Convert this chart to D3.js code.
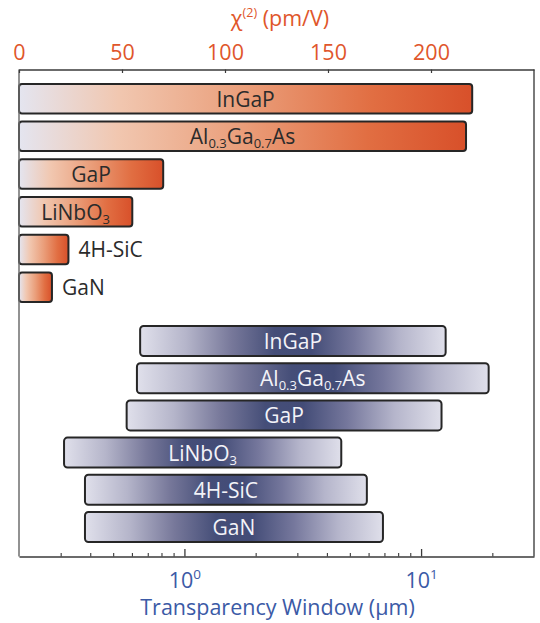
<!DOCTYPE html>
<html>
<head>
<meta charset="utf-8">
<script src="https://cdn.jsdelivr.net/npm/d3@7"></script>
<style>
  body { margin: 0; background: #fff; }
  svg { display: block; font-family: "Open Sans", "Noto Sans", sans-serif; }
</style>
</head>
<body>
<svg id="chart" width="540" height="623"></svg>
<script>
// Materials; "_{...}" marks a subscript in the drawn label.
const materials = ["InGaP", "Al_{0.3}Ga_{0.7}As", "GaP", "LiNbO_{3}", "4H-SiC", "GaN"];
// Second-order susceptibility, pm/V
const chi2Values = [220, 217, 70, 55, 24, 16];
// Transparency window, µm
const windowStart = [0.65, 0.63, 0.57, 0.31, 0.38, 0.38];
const windowEnd = [12.7, 19.3, 12.2, 4.6, 5.9, 6.9];

const chi2Ticks = [0, 50, 100, 150, 200];
const decadeTicks = [1, 10];
const decadeExponents = ["0", "1"];
const minorTicks = [0.3, 0.4, 0.5, 0.6, 0.7, 0.8, 0.9, 2, 3, 4, 5, 6, 7, 8, 9, 20];

const orange = "#e0562b";
const blue = "#3b5aa6";
const fontSize = 21;

const svg = d3.select("#chart");
const frameL = 19, frameR = 534, frameT = 69.5, frameB = 556.5;

const chiX = d3.scaleLinear().domain([0, 250]).range([frameL, frameR]);
const lamX = d3.scaleLog().domain([0.2, 30]).range([frameL, frameR]);
const yChi = d3.scaleBand().domain(materials).range([79.8, 306])
  .paddingInner(0.2175).paddingOuter(0.10875);
const yLam = d3.scaleBand().domain(materials).range([322.4, 545.6])
  .paddingInner(0.1935).paddingOuter(0.0968);

// Gradients
const defs = svg.append("defs");
const gOr = defs.append("linearGradient").attr("id", "gradOrange")
  .attr("x1", 0).attr("x2", 1).attr("y1", 0).attr("y2", 0);
[[0, "#e4e5f0"], [0.22, "#f1c7b0"], [0.5, "#ea9e7a"], [0.78, "#e16e42"], [1, "#d8502a"]]
  .forEach(([o, c]) => gOr.append("stop").attr("offset", o).attr("stop-color", c));
const gBl = defs.append("linearGradient").attr("id", "gradBlue")
  .attr("x1", 0).attr("x2", 1).attr("y1", 0).attr("y2", 0);
[[0, "#e0e0eb"], [0.15, "#b5b5ca"], [0.3, "#77789a"], [0.44, "#454e78"], [0.56, "#434c77"],
 [0.7, "#75779c"], [0.85, "#b5b5cb"], [1, "#dfdfea"]]
  .forEach(([o, c]) => gBl.append("stop").attr("offset", o).attr("stop-color", c));

// Writes a label with subscripts into a text element
function writeLabel(textSel, label, subSize) {
  const parts = label.split(/(_\{[^}]*\})/).filter(s => s.length);
  let shifted = false;
  parts.forEach(p => {
    const m = p.match(/^_\{(.*)\}$/);
    if (m) {
      textSel.append("tspan").attr("font-size", subSize).attr("dy", shifted ? 0 : 7).text(m[1]);
      shifted = true;
    } else {
      textSel.append("tspan").attr("dy", shifted ? -7 : 0).text(p);
      shifted = false;
    }
  });
}

// χ(2) bars
const chiRows = svg.append("g").selectAll("g").data(materials).join("g");
chiRows.append("rect")
  .attr("x", chiX(0))
  .attr("y", d => yChi(d))
  .attr("width", (d, i) => chiX(chi2Values[i]) - chiX(0))
  .attr("height", yChi.bandwidth())
  .attr("rx", 3)
  .attr("fill", "url(#gradOrange)")
  .attr("stroke", "#262626").attr("stroke-width", 2);
chiRows.each(function (d, i) {
  const g = d3.select(this);
  const t = g.append("text")
    .attr("y", yChi(d) + yChi.bandwidth() / 2)
    .attr("font-size", fontSize).attr("fill", "#2b2b2b")
    .attr("dominant-baseline", "central");
  writeLabel(t, d, 13);
  const w = t.node().getComputedTextLength();
  const x0 = chiX(0), x1 = chiX(chi2Values[i]);
  if (w + 16 < x1 - x0) {
    t.attr("x", (x0 + x1) / 2).attr("text-anchor", "middle");
  } else {
    t.attr("x", x1 + 10).attr("text-anchor", "start");
  }
});

// Transparency window bars
const lamRows = svg.append("g").selectAll("g").data(materials).join("g");
lamRows.append("rect")
  .attr("x", (d, i) => lamX(windowStart[i]))
  .attr("y", d => yLam(d))
  .attr("width", (d, i) => lamX(windowEnd[i]) - lamX(windowStart[i]))
  .attr("height", yLam.bandwidth())
  .attr("rx", 3.5)
  .attr("fill", "url(#gradBlue)")
  .attr("stroke", "#262626").attr("stroke-width", 2);
lamRows.each(function (d, i) {
  const t = d3.select(this).append("text")
    .attr("x", (lamX(windowStart[i]) + lamX(windowEnd[i])) / 2)
    .attr("y", yLam(d) + yLam.bandwidth() / 2)
    .attr("text-anchor", "middle")
    .attr("dominant-baseline", "central")
    .attr("font-size", fontSize).attr("fill", "#f3f3f8");
  writeLabel(t, d, 13);
});

// Frame sides
svg.append("line").attr("x1", frameL).attr("x2", frameL).attr("y1", frameT).attr("y2", frameB)
  .attr("stroke", "#6e6e6e").attr("stroke-width", 1.5);
svg.append("line").attr("x1", frameR).attr("x2", frameR).attr("y1", frameT).attr("y2", frameB)
  .attr("stroke", "#7a7a7a").attr("stroke-width", 2);

// Top axis: χ(2)
const topAxis = svg.append("g").attr("transform", `translate(0,${frameT})`)
  .call(d3.axisTop(chiX).tickValues(chi2Ticks).tickSizeInner(-3.5).tickSizeOuter(0).tickPadding(9.5));
topAxis.select(".domain").attr("stroke", "#3a3a3a").attr("stroke-width", 1.3);
topAxis.selectAll(".tick line").attr("stroke", "#3a3a3a").attr("stroke-width", 1.2);
topAxis.selectAll(".tick text").attr("font-size", 21.5).attr("fill", orange)
  .attr("font-family", "\"Open Sans\", sans-serif");

// Bottom axis: wavelength (log)
const minorAxis = svg.append("g").attr("transform", `translate(0,${frameB})`)
  .call(d3.axisBottom(lamX).tickValues(minorTicks).tickSizeInner(-3.5).tickSizeOuter(0).tickFormat(""));
minorAxis.select(".domain").attr("stroke", "#3a3a3a").attr("stroke-width", 1.3);
minorAxis.selectAll(".tick line").attr("stroke", "#3a3a3a").attr("stroke-width", 1.1);

const majorAxis = svg.append("g").attr("transform", `translate(0,${frameB})`)
  .call(d3.axisBottom(lamX).tickValues(decadeTicks).tickSizeInner(-7.5).tickSizeOuter(0).tickFormat(""));
majorAxis.select(".domain").remove();
majorAxis.selectAll(".tick line").attr("stroke", "#3a3a3a").attr("stroke-width", 1.3);
majorAxis.selectAll(".tick").each(function (d, i) {
  const t = d3.select(this).append("text")
    .attr("y", 31.5).attr("text-anchor", "middle")
    .attr("font-size", 21.5).attr("fill", blue)
    .attr("font-family", "\"Open Sans\", sans-serif");
  t.append("tspan").text("10");
  t.append("tspan").attr("font-size", 13.5).attr("dy", -9).text(decadeExponents[i]);
});

// Axis titles
const topTitle = svg.append("text").attr("x", 280).attr("y", 26)
  .attr("text-anchor", "middle").attr("font-size", 21.5).attr("fill", orange);
topTitle.append("tspan").text("χ");
topTitle.append("tspan").attr("font-size", 12.5).attr("dy", -9).text("(2)");
topTitle.append("tspan").attr("dy", 9).text(" (pm/V)");

svg.append("text").attr("x", 277.5).attr("y", 615)
  .attr("text-anchor", "middle").attr("font-size", 21.5).attr("fill", blue)
  .text("Transparency Window (µm)");
</script>
</body>
</html>
